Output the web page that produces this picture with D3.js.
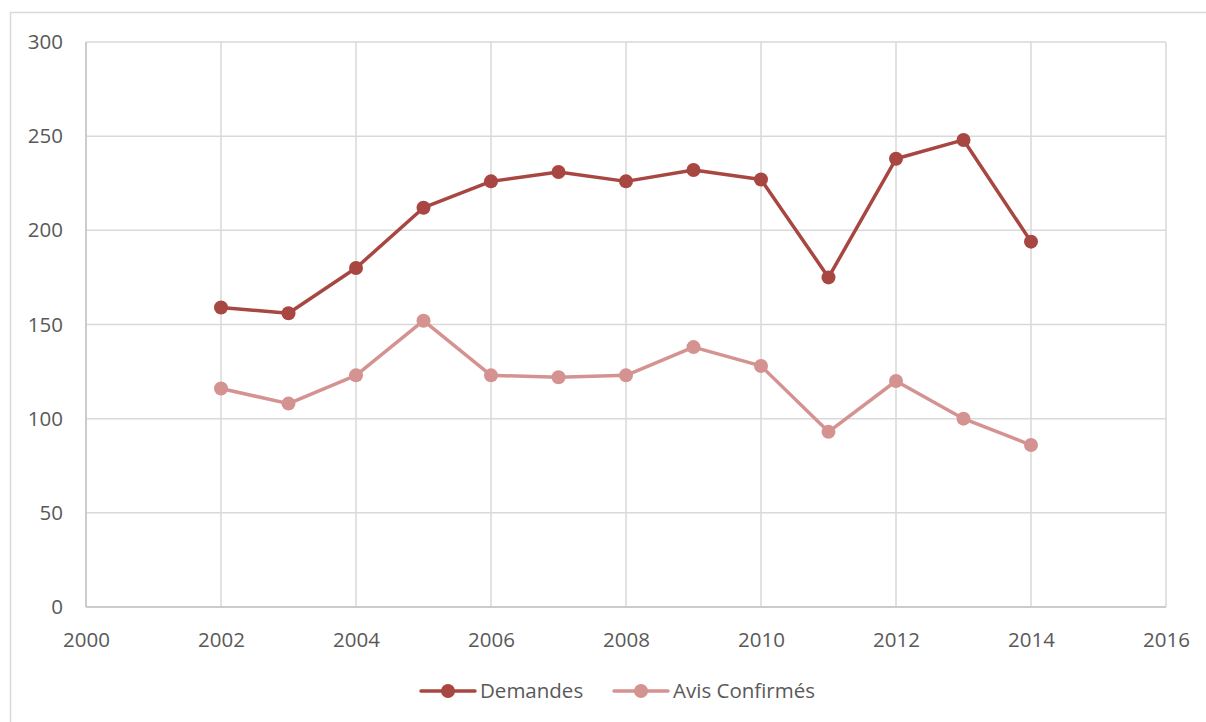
<!DOCTYPE html>
<html>
<head>
<meta charset="utf-8">
<script src="https://cdn.jsdelivr.net/npm/d3@7"></script>
<style>
  html, body { margin: 0; padding: 0; background: #fff; }
  svg { display: block; }
  text { font-family: "Open Sans", Lato, sans-serif; fill: #595959; }
</style>
</head>
<body>
<svg id="chart" width="1206" height="722"></svg>
<script>
// Yearly series
const years = [2002, 2003, 2004, 2005, 2006, 2007, 2008, 2009, 2010, 2011, 2012, 2013, 2014];
const demandes = [159, 156, 180, 212, 226, 231, 226, 232, 227, 175, 238, 248, 194];
const avisConfirmes = [116, 108, 123, 152, 123, 122, 123, 138, 128, 93, 120, 100, 86];
const seriesNames = ["Demandes", "Avis Confirmés"];
const seriesColors = ["#a84642", "#d49391"];
const xTicks = [2000, 2002, 2004, 2006, 2008, 2010, 2012, 2014, 2016];
const yTicks = [0, 50, 100, 150, 200, 250, 300];

const svg = d3.select("#chart");
const W = 1206, H = 722;
const plot = { left: 86, right: 1166, top: 42, bottom: 607 };
const fontSize = "20.5px";

// Outer frame (top and left edges visible)
svg.append("path")
  .attr("d", `M10.5,${H} V12.5 H${W}`)
  .attr("fill", "none").attr("stroke", "#d9d9d9").attr("stroke-width", 1.5);

const x = d3.scaleLinear().domain([2000, 2016]).range([plot.left, plot.right]);
const y = d3.scaleLinear().domain([0, 300]).range([plot.bottom, plot.top]);

// Grid
const grid = svg.append("g");
grid.selectAll("line.h").data(yTicks).join("line")
  .attr("x1", plot.left).attr("x2", plot.right)
  .attr("y1", d => y(d)).attr("y2", d => y(d))
  .attr("stroke", "#d9d9d9").attr("stroke-width", 1.5);
grid.selectAll("line.v").data(xTicks).join("line")
  .attr("y1", plot.top).attr("y2", plot.bottom)
  .attr("x1", d => x(d)).attr("x2", d => x(d))
  .attr("stroke", "#d9d9d9").attr("stroke-width", 1.5);

// Axis baselines
svg.append("line").attr("x1", plot.left).attr("x2", plot.right)
  .attr("y1", plot.bottom).attr("y2", plot.bottom)
  .attr("stroke", "#c4c4c4").attr("stroke-width", 1.5);
svg.append("line").attr("x1", plot.left).attr("x2", plot.left)
  .attr("y1", plot.top).attr("y2", plot.bottom)
  .attr("stroke", "#c4c4c4").attr("stroke-width", 1.5);

// Axes (labels only)
const yAxis = d3.axisLeft(y).tickValues(yTicks).tickSize(0).tickPadding(23);
const gy = svg.append("g").attr("transform", `translate(${plot.left},0)`).call(yAxis);
gy.select(".domain").remove();
gy.selectAll("text").style("font-size", fontSize).attr("fill", "#595959");

const xAxis = d3.axisBottom(x).tickValues(xTicks).tickFormat(d3.format("d")).tickSize(0).tickPadding(25);
const gx = svg.append("g").attr("transform", `translate(0,${plot.bottom})`).call(xAxis);
gx.select(".domain").remove();
gx.selectAll("text").style("font-size", fontSize).attr("fill", "#595959");

// Series
const series = [demandes, avisConfirmes];
const line = d3.line().x((d, i) => x(years[i])).y(d => y(d));
series.forEach((vals, k) => {
  const g = svg.append("g");
  g.append("path").datum(vals).attr("d", line)
    .attr("fill", "none").attr("stroke", seriesColors[k])
    .attr("stroke-width", 3.5).attr("stroke-linejoin", "round");
  g.selectAll("circle").data(vals).join("circle")
    .attr("cx", (d, i) => x(years[i])).attr("cy", d => y(d))
    .attr("r", 7).attr("fill", seriesColors[k]);
});

// Legend
const legend = svg.append("g").attr("transform", "translate(0,691)");
const legendX = [421, 614];
seriesNames.forEach((name, k) => {
  const g = legend.append("g").attr("transform", `translate(${legendX[k]},0)`);
  g.append("line").attr("x1", 0).attr("x2", 54).attr("y1", 0).attr("y2", 0)
    .attr("stroke", seriesColors[k]).attr("stroke-width", 3.5).attr("stroke-linecap", "round");
  g.append("circle").attr("cx", 27).attr("cy", 0).attr("r", 7).attr("fill", seriesColors[k]);
  g.append("text").attr("x", 59).attr("y", 0).attr("dy", "0.35em")
    .style("font-size", fontSize).text(name);
});
</script>
</body>
</html>
